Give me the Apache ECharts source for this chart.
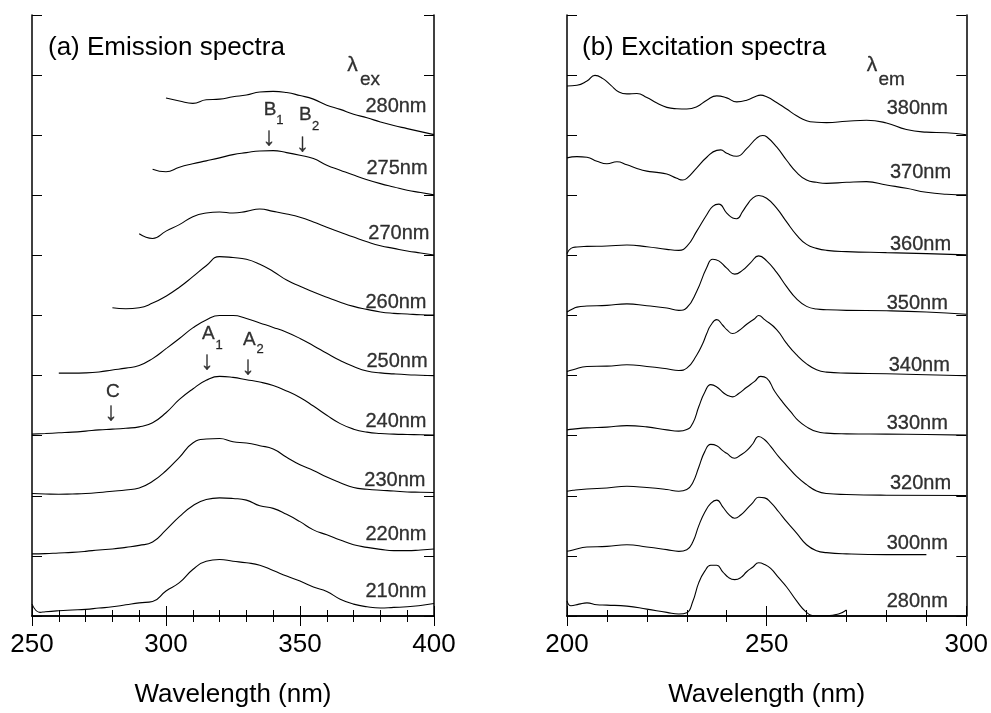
<!DOCTYPE html>
<html>
<head>
<meta charset="utf-8">
<script src="https://cdn.jsdelivr.net/npm/echarts@6/dist/echarts.min.js"></script>
<style>
html,body{margin:0;padding:0;background:#fff;}
#c{width:991px;height:713px;}
</style>
</head>
<body>
<div id="c"></div>
<script>
// ---------- (a) Emission spectra (x: wavelength nm, y: offset intensity) ----------
const em280_x = [300,305,310,315,320,325,330,335,340,345,350,355,360,365,370,375,380,385,390,395,400];
const em280_y = [8.62,8.57,8.53,8.59,8.60,8.64,8.67,8.72,8.73,8.71,8.66,8.60,8.50,8.43,8.35,8.29,8.22,8.16,8.11,8.06,8.01];
const em275_x = [295,300,305,310,315,320,325,330,335,340,345,350,355,360,365,370,375,380,385,390,395,400];
const em275_y = [7.435,7.392,7.468,7.524,7.573,7.623,7.677,7.710,7.738,7.743,7.710,7.666,7.611,7.501,7.418,7.336,7.260,7.194,7.138,7.084,7.046,7.007];
const em270_x = [290,295,300,305,310,315,320,325,330,335,340,345,350,355,360,365,370,375,380,385,390,395,400];
const em270_y = [6.359,6.282,6.404,6.512,6.644,6.705,6.722,6.705,6.733,6.771,6.733,6.689,6.634,6.557,6.469,6.387,6.305,6.227,6.161,6.117,6.074,6.041,6.008];
const em260_x = [280,285,290,295,300,305,310,315,320,325,330,335,340,345,350,355,360,365,370,375,380,385,390,395,400];
const em260_y = [5.129,5.112,5.129,5.206,5.321,5.470,5.646,5.827,5.980,5.964,5.936,5.853,5.733,5.590,5.486,5.392,5.305,5.222,5.152,5.102,5.058,5.036,5.025,5.013,5.008];
const em250_x = [260,265,270,275,280,285,290,295,300,305,310,315,320,325,330,335,340,345,350,355,360,365,370,375,380,385,390,395,400];
const em250_y = [4.041,4.041,4.045,4.061,4.094,4.124,4.168,4.283,4.448,4.618,4.794,4.926,5.000,5.000,4.951,4.876,4.802,4.720,4.618,4.498,4.371,4.250,4.152,4.077,4.045,4.028,4.015,4.007,3.998];
const em240_x = [250,255,260,265,270,275,280,285,290,295,300,305,310,315,320,325,330,335,340,345,350,355,360,365,370,375,380,385,390,395,400];
const em240_y = [3.026,3.036,3.048,3.059,3.076,3.097,3.109,3.125,3.147,3.217,3.382,3.603,3.778,3.921,3.987,3.970,3.932,3.893,3.834,3.745,3.636,3.493,3.339,3.201,3.109,3.059,3.036,3.026,3.020,3.015,3.010];
const em230_x = [250,255,260,265,270,275,280,285,290,295,300,305,310,315,320,325,330,335,340,345,350,355,360,365,370,375,380,385,390,395,400];
const em230_y = [2.038,2.031,2.026,2.031,2.038,2.054,2.076,2.097,2.130,2.241,2.417,2.641,2.878,2.944,2.954,2.900,2.878,2.834,2.779,2.641,2.516,2.422,2.311,2.219,2.137,2.109,2.092,2.081,2.064,2.059,2.054];
const em220_x = [250,255,260,265,270,275,280,285,290,295,300,305,310,315,320,325,330,335,340,345,350,355,360,365,370,375,380,385,390,395,400];
const em220_y = [1.033,1.038,1.049,1.059,1.076,1.099,1.115,1.142,1.175,1.231,1.433,1.652,1.834,1.939,1.965,1.955,1.928,1.834,1.791,1.692,1.570,1.433,1.351,1.264,1.186,1.142,1.109,1.087,1.087,1.099,1.115];
const em210_x = [250,253,255,260,265,270,275,280,285,290,295,300,305,310,315,320,325,330,335,340,345,350,355,360,365,370,375,380,385,390,395,400];
const em210_y = [0.198,0.061,0.071,0.087,0.099,0.110,0.132,0.153,0.186,0.219,0.242,0.417,0.555,0.774,0.911,0.939,0.911,0.885,0.845,0.758,0.664,0.582,0.483,0.407,0.280,0.198,0.153,0.132,0.143,0.153,0.176,0.209];

// ---------- (b) Excitation spectra ----------
const ex380_x = [200,202.5,205,207,209,211,213,215,217.5,220,222.5,225,227.5,230,232.5,235,237.5,240,242.5,245,247.5,248.5,250,252.5,255,257.5,260,262.5,265,270,275,280,285,290,295,300];
const ex380_y = [8.819,8.830,8.901,8.995,8.941,8.830,8.720,8.687,8.694,8.628,8.534,8.463,8.440,8.435,8.473,8.583,8.654,8.621,8.555,8.583,8.654,8.666,8.638,8.545,8.435,8.325,8.242,8.216,8.209,8.232,8.249,8.204,8.094,8.051,8.040,8.007];
const ex370_x = [200,202.5,205,207.5,210,212.5,215,217.5,220,222.5,225,227.5,229,230,232.5,235,237.5,238.5,240,242.5,245,247.5,249,250,252.5,255,257.5,260,262.5,265,270,275,280,285,290,295,300];
const ex370_y = [7.623,7.644,7.633,7.567,7.524,7.557,7.507,7.446,7.402,7.381,7.353,7.282,7.254,7.282,7.458,7.633,7.748,7.755,7.699,7.649,7.776,7.952,7.995,7.974,7.804,7.583,7.381,7.254,7.216,7.199,7.216,7.227,7.171,7.117,7.051,7.018,7.007];
const ex360_x = [200,201,202.5,205,210,215,220,225,228,230,232.5,235,236.5,238,240,241.5,242.5,244,245,246.5,248,250,252.5,255,257.5,260,262.5,265,270,280,290,300];
const ex360_y = [6.030,6.117,6.140,6.150,6.157,6.173,6.145,6.100,6.084,6.150,6.404,6.677,6.815,6.853,6.705,6.623,6.611,6.733,6.832,6.952,6.997,6.952,6.787,6.557,6.338,6.183,6.117,6.084,6.063,6.046,6.030,6.008];
const ex350_x = [200,201.5,202.5,205,210,215,220,225,228,230,232.5,235,236.5,238,240,242,244,246,248,250,252.5,255,257.5,260,262.5,265,270,280,290,300];
const ex350_y = [5.058,5.112,5.140,5.157,5.168,5.194,5.161,5.124,5.086,5.129,5.404,5.799,5.936,5.909,5.787,5.689,5.755,5.881,5.992,5.909,5.717,5.481,5.277,5.152,5.107,5.096,5.086,5.079,5.058,5.020];
const ex340_x = [200,201.5,205,210,215,220,225,228,230,232.5,234,235,236,237.5,239,240,241.5,243,245,247,248,249.5,252.5,255,257.5,260,262.5,265,270,280,290,300];
const ex340_y = [4.069,4.097,4.152,4.157,4.180,4.152,4.114,4.086,4.124,4.344,4.535,4.700,4.838,4.931,4.838,4.766,4.700,4.745,4.855,4.947,5.000,4.931,4.766,4.535,4.344,4.196,4.097,4.058,4.041,4.031,4.015,3.998];
const ex330_x = [200,201.5,205,210,215,220,225,228,230,231.5,233,234.5,236,237.5,239,240,241.5,243,245,247,248.5,250,252,254,256,258,260,262.5,265,270,280,290,300];
const ex330_y = [3.097,3.109,3.130,3.142,3.168,3.147,3.097,3.076,3.102,3.208,3.481,3.723,3.850,3.811,3.723,3.679,3.646,3.702,3.806,3.904,3.987,3.959,3.740,3.559,3.399,3.245,3.147,3.069,3.043,3.031,3.026,3.020,3.010];
const ex320_x = [200,201.5,205,210,215,220,225,228,230,231.5,233,234.5,236,237.5,239,240,242,243.5,245,246.5,248,249.5,251,253,255,257.5,260,262.5,265,270,280,300];
const ex320_y = [2.076,2.092,2.114,2.130,2.158,2.137,2.104,2.076,2.104,2.219,2.476,2.735,2.855,2.834,2.751,2.707,2.624,2.680,2.751,2.862,2.987,2.932,2.822,2.652,2.504,2.323,2.186,2.081,2.038,2.021,2.010,2.005];
const ex300_x = [200,201.5,205,210,215,220,225,228,230,231.5,233,234.5,236,237.5,239,240.5,242,243.5,245,246.5,248,249.5,251,253,255,257.5,260,262.5,265,270,280,290];
const ex300_y = [1.076,1.099,1.148,1.158,1.186,1.148,1.104,1.076,1.104,1.231,1.504,1.725,1.873,1.928,1.817,1.692,1.626,1.680,1.779,1.883,1.977,1.965,1.890,1.735,1.570,1.379,1.186,1.087,1.054,1.033,1.021,1.021];
const ex280_x = [200,201,203,205,207.5,210,215,220,225,228,230,231.5,233,234.5,236,237.5,239,240.5,242,243.5,245,246.5,248,249.5,251,253,255,257.5,260,262,265,268,270];
const ex280_y = [0.252,0.170,0.198,0.219,0.186,0.181,0.165,0.115,0.061,0.033,0.054,0.242,0.555,0.746,0.845,0.845,0.736,0.638,0.605,0.638,0.736,0.812,0.885,0.857,0.791,0.638,0.483,0.252,0.061,0.005,0.005,0.033,0.099];

// ---------- curve labels ----------
const emNames  = ['280nm','275nm','270nm','260nm','250nm','240nm','230nm','220nm','210nm'];
const emNameY  = [8.484,7.446,6.359,5.222,4.234,3.229,2.257,1.351,0.412];
const emNameX  = [397.4,397.8,398.5,397.4,397.8,397.4,397.0,397.4,397.4];
const exNames  = ['380nm','370nm','360nm','350nm','340nm','330nm','320nm','300nm','280nm'];
const exNameY  = [8.451,7.381,6.178,5.206,4.168,3.196,2.208,1.203,0.247];
const exNameX  = [295.5,296.3,296.3,295.5,296.0,295.5,296.3,295.5,295.5];

// ---------- peak annotations (text, x, y) ----------
const annLetters = [['B',338.8,8.430],['B',352.0,8.339],['A',315.8,4.700],['A',331.1,4.591],['C',280.2,3.723]];
const annSubs    = [['1',342.5,8.254],['2',355.8,8.147],['1',319.8,4.498],['2',335.1,4.432]];
const annArrows  = [[338.4,7.957],[350.9,7.858],[315.3,4.234],[330.6,4.152],[279.5,3.386]];

const FONT = '"Liberation Sans", Arial, Helvetica, sans-serif';

function curve(xs, ys, idx) {
  return {
    type: 'line', xAxisIndex: idx * 2, yAxisIndex: idx * 2,
    data: xs.map((x, i) => [x, ys[i]]),
    symbol: 'none', showSymbol: false, smooth: 0.5,
    lineStyle: { color: '#000', width: 1.1 }, silent: true, animation: false, z: 3
  };
}
function texts(points, idx, fontSize, position) {
  return {
    type: 'scatter', xAxisIndex: idx * 2, yAxisIndex: idx * 2,
    symbolSize: 1, itemStyle: { color: 'rgba(0,0,0,0)' }, silent: true, animation: false, z: 5,
    data: points.map(p => ({ value: [p[1], p[2]], label: { formatter: p[0] } })),
    label: { show: true, position: position, distance: 0, color: '#000', fontSize: fontSize, fontFamily: FONT,
             textBorderColor: '#000', textBorderWidth: 0.3 }
  };
}

function xAxes(gi, min, max) {
  const common = {
    type: 'value', gridIndex: gi, min: min, max: max, interval: 50,
    axisLine: { show: true, lineStyle: { color: '#000', width: 1.5 } },
    axisTick: { show: true, inside: true, length: 10, lineStyle: { color: '#000', width: 1 } },
    minorTick: { show: true, splitNumber: 5, length: 6, lineStyle: { color: '#000', width: 1 } },
    splitLine: { show: false }, minorSplitLine: { show: false }
  };
  return [
    Object.assign({}, common, {
      position: 'bottom',
      axisLabel: { show: true, color: '#000', fontSize: 26, fontFamily: FONT, margin: 16 },
      name: 'Wavelength (nm)', nameLocation: 'middle', nameGap: 66,
      nameTextStyle: { color: '#000', fontSize: 26, fontFamily: FONT }
    }),
    Object.assign({}, common, { position: 'top', axisLabel: { show: false } })
  ];
}
function yAxes(gi) {
  const common = {
    type: 'value', gridIndex: gi, min: 0, max: 10, interval: 1,
    axisLine: { show: true, lineStyle: { color: '#000', width: 1.5 } },
    axisTick: { show: true, inside: true, length: 10, lineStyle: { color: '#000', width: 1 } },
    axisLabel: { show: false }, splitLine: { show: false }
  };
  return [
    Object.assign({}, common, { position: 'left' }),
    Object.assign({}, common, { position: 'right' })
  ];
}

const emSeries = [
  [em280_x, em280_y], [em275_x, em275_y], [em270_x, em270_y], [em260_x, em260_y], [em250_x, em250_y],
  [em240_x, em240_y], [em230_x, em230_y], [em220_x, em220_y], [em210_x, em210_y]
].map(d => curve(d[0], d[1], 0));
const exSeries = [
  [ex380_x, ex380_y], [ex370_x, ex370_y], [ex360_x, ex360_y], [ex350_x, ex350_y], [ex340_x, ex340_y],
  [ex330_x, ex330_y], [ex320_x, ex320_y], [ex300_x, ex300_y], [ex280_x, ex280_y]
].map(d => curve(d[0], d[1], 1));

const chart = echarts.init(document.getElementById('c'), null, { renderer: 'canvas' });
chart.setOption({
  backgroundColor: '#fff',
  animation: false,
  grid: [
    { left: 32, top: 15, width: 402, height: 607 },
    { left: 567, top: 15, width: 403, height: 607 }
  ],
  xAxis: [].concat(xAxes(0, 250, 400), xAxes(1, 200, 300)),
  yAxis: [].concat(yAxes(0), yAxes(1)),
  graphic: [
    { type: 'text', left: 48, top: 35, style: { text: '(a) Emission spectra', fill: '#000', font: '26px ' + FONT } },
    { type: 'text', left: 582, top: 35, style: { text: '(b) Excitation spectra', fill: '#000', font: '26px ' + FONT } }
  ],
  series: [].concat(
    emSeries, exSeries,
    [texts(emNames.map((n, i) => [n, emNameX[i], emNameY[i]]), 0, 20, 'left')],
    [texts(exNames.map((n, i) => [n, exNameX[i], exNameY[i]]), 1, 20, 'left')],
    [texts(annLetters, 0, 19, 'inside')],
    [texts(annSubs, 0, 13, 'inside')],
    [texts(annArrows.map(a => ['\u2193', a[0], a[1]]), 0, 26, 'inside')],
    [texts([['\u03bb', 369.6, 9.16]], 0, 21, 'inside')],
    [texts([['ex', 376.1, 8.93]], 0, 19, 'inside')],
    [texts([['\u03bb', 276.4, 9.16]], 1, 21, 'inside')],
    [texts([['em', 281.3, 8.93]], 1, 19, 'inside')]
  )
});
</script>
</body>
</html>
